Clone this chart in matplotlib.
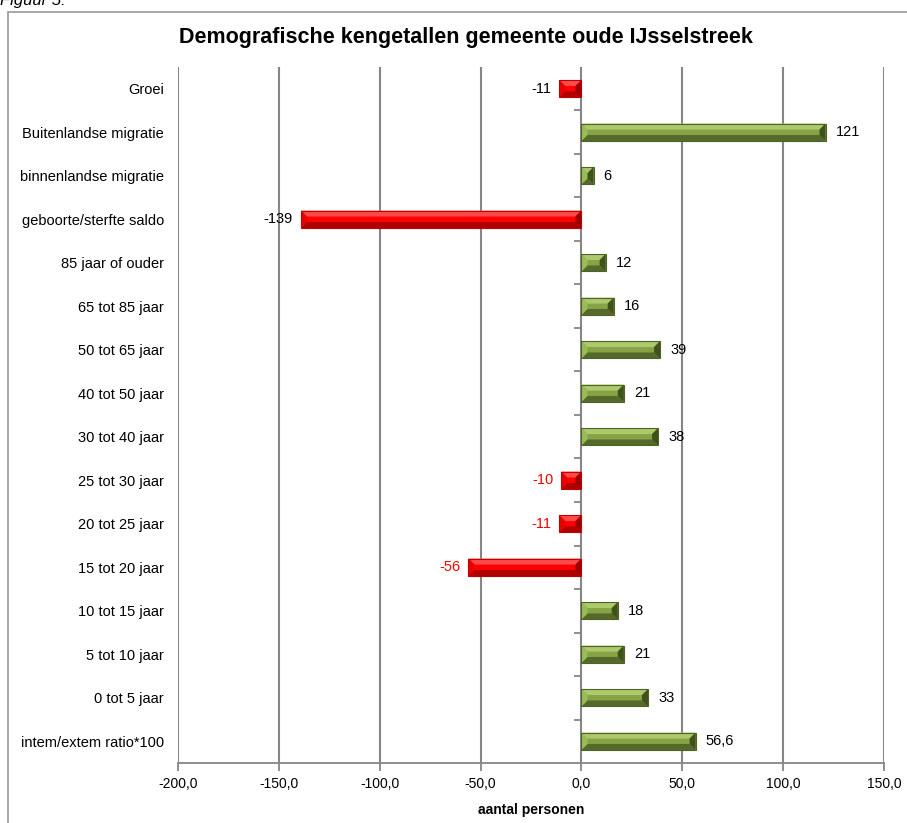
import matplotlib
matplotlib.use("Agg")
import matplotlib.pyplot as plt
from matplotlib.patches import Polygon, Rectangle
from matplotlib.ticker import FuncFormatter, FixedLocator

plt.rcParams["font.family"] = ["Liberation Sans", "DejaVu Sans"]

categories = [
    "Groei", "Buitenlandse migratie", "binnenlandse migratie",
    "geboorte/sterfte saldo", "85 jaar of ouder", "65 tot 85 jaar",
    "50 tot 65 jaar", "40 tot 50 jaar", "30 tot 40 jaar", "25 tot 30 jaar",
    "20 tot 25 jaar", "15 tot 20 jaar", "10 tot 15 jaar", "5 tot 10 jaar",
    "0 tot 5 jaar", "intem/extem ratio*100",
]
values = [-11, 121, 6, -139, 12, 16, 39, 21, 38, -10, -11, -56, 18, 21, 33, 56.6]
value_labels = ["-11", "121", "6", "-139", "12", "16", "39", "21", "38",
                "-10", "-11", "-56", "18", "21", "33", "56,6"]
label_red = [False, False, False, False, False, False, False, False, False,
             True, True, True, False, False, False, False]
x_ticks = [-200, -150, -100, -50, 0, 50, 100, 150]

W, H = 907, 823
fig = plt.figure(figsize=(W / 100, H / 100), dpi=100)

# frame around the chart area, running off the right and bottom edges
fig.patches.append(Rectangle((8 / W, -0.05), 1.2, 1 - 12 / H + 0.05,
                             transform=fig.transFigure, fill=False,
                             edgecolor="#a0a0a0", linewidth=1.3))
fig.text(0.0, 1 - 5 / H, "Figuur 5:", fontsize=12, style="italic",
         ha="left", va="baseline", color="#000000")
fig.text(466 / W, 1 - 38 / H, "Demografische kengetallen gemeente oude IJsselstreek",
         fontsize=15.5, fontweight="bold", ha="center", va="center")

left, right, top, bottom = 178, 884, 67, 763
ax = fig.add_axes([left / W, 1 - bottom / H, (right - left) / W, (bottom - top) / H])
ax.set_xlim(-200, 150)
ax.set_ylim(len(categories) - 0.5, -0.5)

for s in ("top", "right", "left"):
    ax.spines[s].set_visible(False)
ax.spines["bottom"].set_color("#868686")
ax.spines["bottom"].set_linewidth(1.3)

ax.xaxis.set_major_locator(FixedLocator(x_ticks))
ax.xaxis.set_major_formatter(FuncFormatter(lambda v, p: f"{v:.1f}".replace(".", ",")))
ax.tick_params(axis="x", direction="out", length=6, width=1.3, color="#868686",
               labelsize=10, pad=4)
ax.set_xlabel("aantal personen", fontsize=10, fontweight="bold", labelpad=9)

for t in x_ticks:
    if t != 0:
        ax.axvline(t, color="#868686", linewidth=1.5, zorder=0)

ax.set_yticks(range(len(categories)))
ax.set_yticklabels(categories, fontsize=10.5)
ax.tick_params(axis="y", length=0, pad=10)

# category axis at zero with separator ticks between categories
ax.axvline(0, color="#868686", linewidth=1.5, zorder=1)
sec = ax.secondary_yaxis(200 / 350)
sec.spines["left"].set_visible(False)
sec.spines["right"].set_visible(False)
sec.set_yticks([i + 0.5 for i in range(len(categories) - 1)])
sec.set_yticklabels([])
sec.tick_params(axis="y", direction="in", length=5, width=1.3, color="#868686")

# bevelled bars
px_x = 350 / (right - left)
px_y = len(categories) / (bottom - top)
bar_h = 0.4
green = dict(top="#adc96c", face="#86a446", bottom="#55692a", lft="#9bbb59",
             rgt="#3f521b", edge="#4f6228")
red = dict(top="#ff4a4a", face="#ff0000", bottom="#b00000", lft="#e80000",
           rgt="#9a0000", edge="#c00000")

for i, v in enumerate(values):
    c = green if v >= 0 else red
    x0, x1 = min(0, v), max(0, v)
    yt, yb = i - bar_h / 2, i + bar_h / 2
    dx = min(6 * px_x, (x1 - x0) / 2)
    dy = min(6 * px_y, bar_h / 2)
    ax.add_patch(Rectangle((x0, yt), x1 - x0, bar_h, facecolor=c["face"],
                           edgecolor="none", zorder=3))
    facets = [
        ([(x0, yt), (x1, yt), (x1 - dx, yt + dy), (x0 + dx, yt + dy)], c["top"]),
        ([(x0, yb), (x1, yb), (x1 - dx, yb - dy), (x0 + dx, yb - dy)], c["bottom"]),
        ([(x0, yt), (x0 + dx, yt + dy), (x0 + dx, yb - dy), (x0, yb)], c["lft"]),
        ([(x1, yt), (x1 - dx, yt + dy), (x1 - dx, yb - dy), (x1, yb)], c["rgt"]),
    ]
    for pts, col in facets:
        ax.add_patch(Polygon(pts, closed=True, facecolor=col, edgecolor="none",
                             zorder=3))
    ax.add_patch(Rectangle((x0, yt), x1 - x0, bar_h, facecolor="none",
                           edgecolor=c["edge"], linewidth=0.8, zorder=4))
    col = "#ff0000" if label_red[i] else "#000000"
    if v >= 0:
        ax.text(v + 10 * px_x, i, value_labels[i], ha="left", va="center",
                fontsize=10.5, color=col, zorder=5)
    else:
        ax.text(v - 8 * px_x, i, value_labels[i], ha="right", va="center",
                fontsize=10.5, color=col, zorder=5)

fig.savefig("out.png", dpi=100)
